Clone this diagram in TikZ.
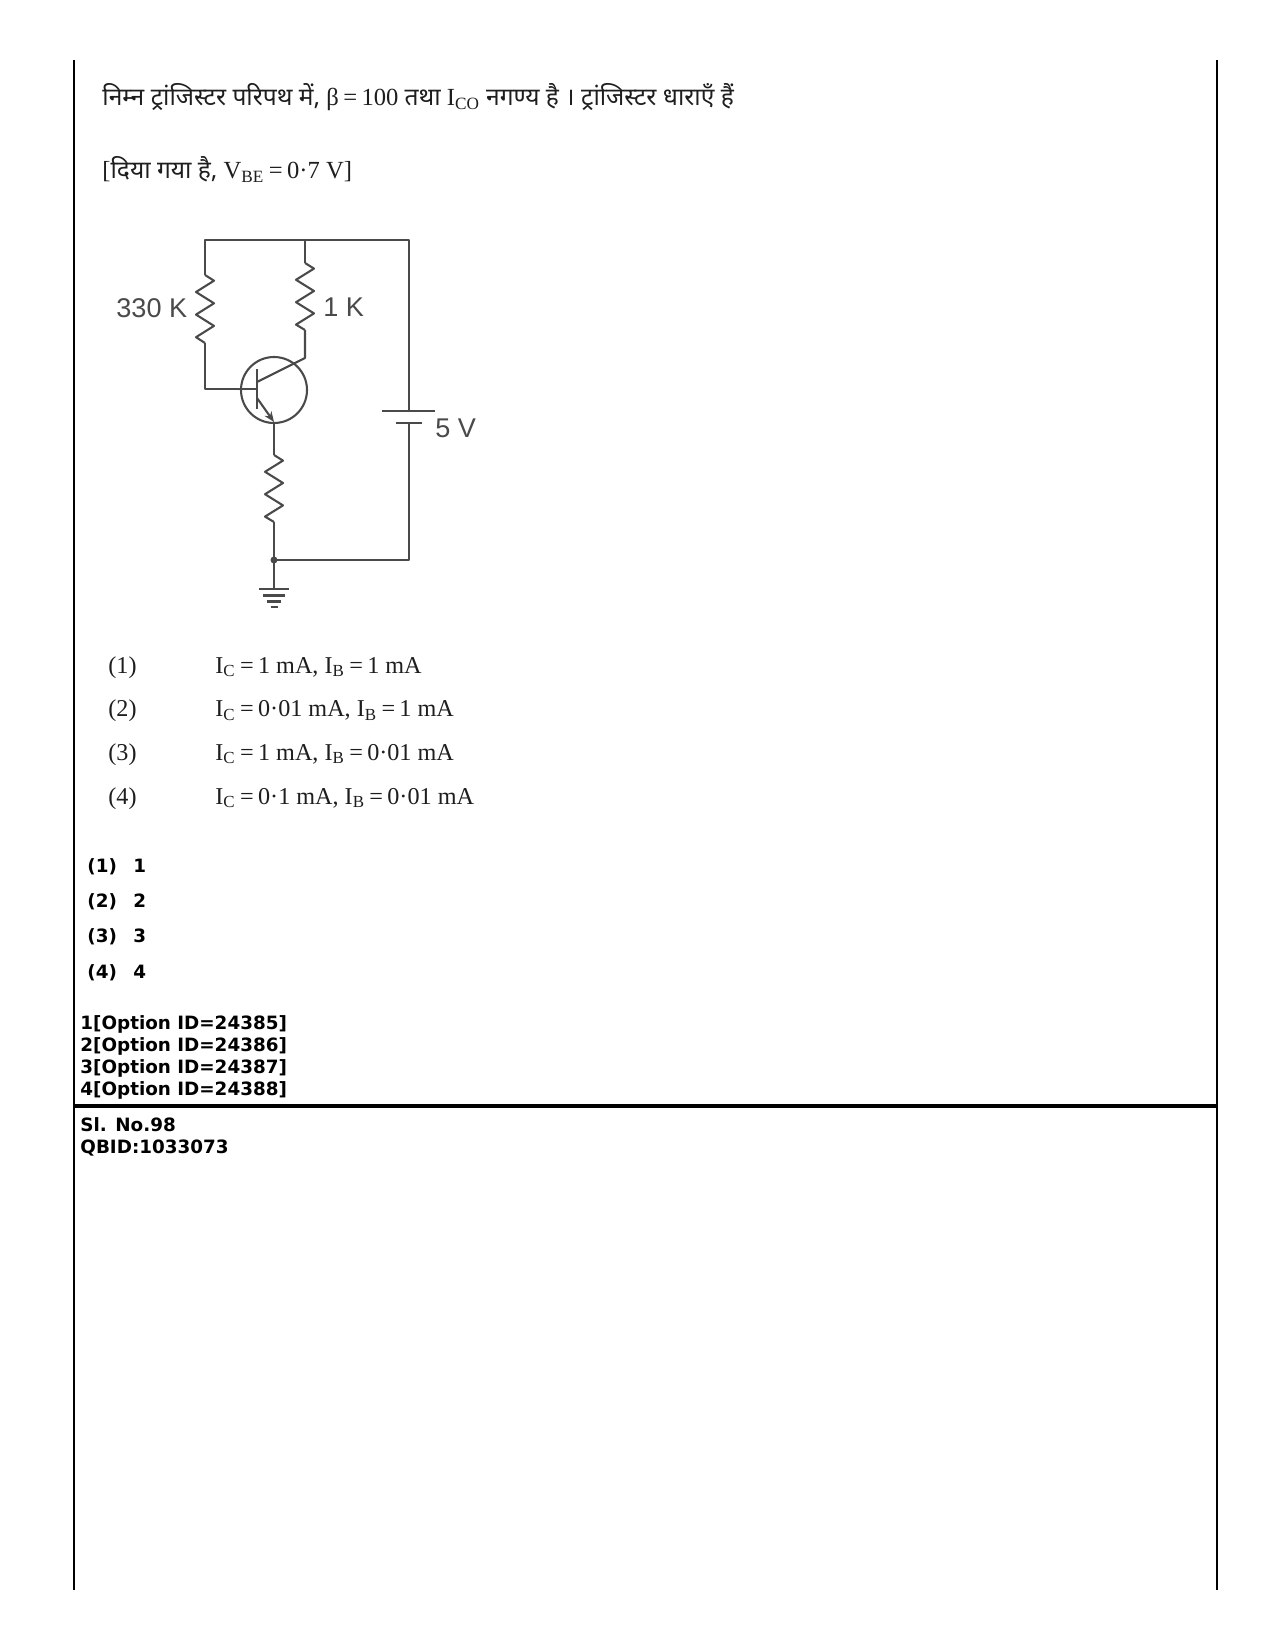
\documentclass[tikz,border=0pt]{standalone}
\usepackage{fontspec}
\setmainfont{Liberation Serif}
\newfontfamily\hnfont[Script=Devanagari]{Noto Sans}
\newfontfamily\arialfont{Liberation Sans}
\newfontfamily\verdfont{DejaVu Sans}
\usetikzlibrary{arrows.meta}
\definecolor{wirec}{HTML}{4A4A4A}
\definecolor{txtc}{HTML}{1E1E1E}
\newcommand{\hn}[1]{{\hnfont #1}}
\newcommand{\eqs}{\hspace{0.18em}=\hspace{0.18em}}
\begin{document}
\begin{tikzpicture}[x=0.48pt,y=-0.48pt,
  wire/.style={draw=wirec,line width=1pt,line join=round},
  border/.style={draw=black,line width=1pt},
  qtext/.style={anchor=base west,inner sep=0pt,text=txtc,font=\fontsize{11.8}{14}\selectfont},
  otext/.style={anchor=base west,inner sep=0pt,text=txtc,font=\fontsize{11.6}{14}\selectfont},
  btext/.style={anchor=base west,inner sep=0pt,text=black,font=\verdfont\bfseries\fontsize{8.8}{10}\selectfont},
  ctext/.style={anchor=base west,inner sep=0pt,text=wirec,font=\arialfont\fontsize{13}{15}\selectfont}]
\useasboundingbox (0,0) rectangle (1275,1651);
\fill[white] (0,0) rectangle (1275,1651);

% page frame
\coordinate (bl1) at (74,60);
\coordinate (bl2) at (74,1590);
\coordinate (br1) at (1217,60);
\coordinate (br2) at (1217,1590);
\coordinate (hl1) at (74,1106);
\coordinate (hl2) at (1217,1106);
\draw[border] (bl1) -- (bl2);
\draw[border] (br1) -- (br2);
\draw[border,line width=1.5pt] (hl1) -- (hl2);

% question text
\node[qtext] (q1) at (102,106) {\hn{निम्न ट्रांजिस्टर परिपथ में,} β\eqs100 \hn{तथा} I\textsubscript{CO} \hn{नगण्य है । ट्रांजिस्टर धाराएँ हैं}};
\node[qtext] (q2) at (102,179) {[\hn{दिया गया है,} V\textsubscript{BE}\eqs0·7 V]};

% circuit coordinates
\coordinate (TL) at (205,240);
\coordinate (TM) at (305,240);
\coordinate (TR) at (409,240);
\coordinate (R1t) at (205,275);
\coordinate (R1b) at (205,343);
\coordinate (Bw) at (205,389);
\coordinate (B) at (257,389);
\coordinate (R2t) at (305,263);
\coordinate (R2b) at (305,330);
\coordinate (Ct) at (305,358);
\coordinate (Cb) at (257,382);
\coordinate (Eb) at (257,398);
\coordinate (E) at (274,422);
\coordinate (R3t) at (274,455);
\coordinate (R3b) at (274,522);
\coordinate (J) at (274,560);
\coordinate (G) at (274,589);
\coordinate (BR) at (409,560);
\coordinate (Plong) at (409,411);
\coordinate (Pshort) at (409,423);
\coordinate (Q) at (274,390);

% top wire and branches
\draw[wire] (R1t) -- (TL) -- (TR) -- (Plong);
\draw[wire] (TM) -- (R2t);
% 330K resistor
\draw[wire] (R1t) -- ++(9,5.7) -- ++(-18,11.3) -- ++(18,11.3) -- ++(-18,11.3) -- ++(18,11.3) -- ++(-18,11.3) -- (R1b);
\draw[wire] (R1b) -- (Bw) -- (B);
% 1K resistor
\draw[wire] (R2t) -- ++(9,5.6) -- ++(-18,11.2) -- ++(18,11.2) -- ++(-18,11.2) -- ++(18,11.2) -- ++(-18,11.2) -- (R2b);
\draw[wire] (R2b) -- (Ct) -- (Cb);
% transistor
\draw[wire] (Q) circle[radius=33];
\draw[wire,line width=1.3pt] (257,369) -- (257,409);
\draw[wire,-{Stealth[length=5pt,width=4pt]}] (Eb) -- (E);
% emitter resistor
\draw[wire] (E) -- (R3t);
\draw[wire] (R3t) -- ++(9,5.6) -- ++(-18,11.2) -- ++(18,11.2) -- ++(-18,11.2) -- ++(18,11.2) -- ++(-18,11.2) -- (R3b);
\draw[wire] (R3b) -- (J) -- (G);
\fill[wirec] (J) circle[radius=3.5];
% ground
\draw[wire] (259,589) -- (289,589);
\draw[wire] (263,595.5) -- (285,595.5);
\draw[wire] (267,601.5) -- (281,601.5);
\draw[wire] (270.5,607) -- (277.5,607);
% battery
\draw[wire] (J) -- (BR) -- (Pshort);
\draw[wire] (382,411) -- (435,411);
\draw[wire,line width=1.4pt] (396,423) -- (422,423);

% circuit labels
\node[ctext] (l330) at (116,317) {330 K};
\node[ctext] (l1k) at (323,316) {1 K};
\node[ctext] (l5v) at (435,437) {5 V};

% options
\node[otext] (o1n) at (108,673) {(1)};
\node[otext] (o1) at (215,673) {I\textsubscript{C}\eqs1 mA, I\textsubscript{B}\eqs1 mA};
\node[otext] (o2n) at (108,716.5) {(2)};
\node[otext] (o2) at (215,716.5) {I\textsubscript{C}\eqs0·01 mA, I\textsubscript{B}\eqs1 mA};
\node[otext] (o3n) at (108,760) {(3)};
\node[otext] (o3) at (215,760) {I\textsubscript{C}\eqs1 mA, I\textsubscript{B}\eqs0·01 mA};
\node[otext] (o4n) at (108,804) {(4)};
\node[otext] (o4) at (215,804) {I\textsubscript{C}\eqs0·1 mA, I\textsubscript{B}\eqs0·01 mA};

% answer choices
\node[btext] (a1n) at (87,872) {(1)};
\node[btext] (a1) at (133,872) {1};
\node[btext] (a2n) at (87,907) {(2)};
\node[btext] (a2) at (133,907) {2};
\node[btext] (a3n) at (87,942.5) {(3)};
\node[btext] (a3) at (133,942.5) {3};
\node[btext] (a4n) at (87,978) {(4)};
\node[btext] (a4) at (133,978) {4};

\node[btext] (id1) at (80,1029) {1[Option ID=24385]};
\node[btext] (id2) at (80,1051) {2[Option ID=24386]};
\node[btext] (id3) at (80,1073) {3[Option ID=24387]};
\node[btext] (id4) at (80,1095) {4[Option ID=24388]};

\node[btext] (sl) at (80,1131) {Sl. No.98};
\node[btext] (qb) at (80,1153) {QBID:1033073};
\end{tikzpicture}
\end{document}
